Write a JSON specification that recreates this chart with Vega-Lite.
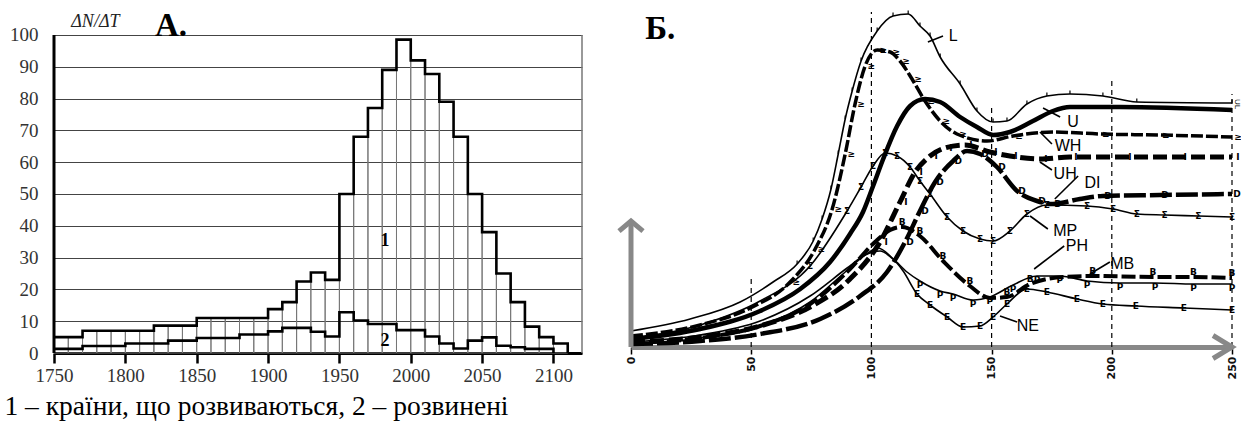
{
 "$schema": "https://vega.github.io/schema/vega-lite/v6.json",
 "padding": {"left": 4, "top": 8, "right": 0, "bottom": 0},
 "background": "white",
 "bounds": "flush",
 "spacing": 49,
 "config": {
  "view": {"stroke": null},
  "axisY": {"grid": true, "gridColor": "#444", "gridWidth": 1, "domain": false, "ticks": false, "labelFont": "Liberation Serif", "labelFontSize": 19, "labelColor": "#333", "labelPadding": 16, "labelOverlap": false, "title": null}
 },
 "datasets": {
  "bars": [
   {"start":1750,"end":1760,"v":5},{"start":1760,"end":1770,"v":5},{"start":1770,"end":1780,"v":7},{"start":1780,"end":1790,"v":7},{"start":1790,"end":1800,"v":7},{"start":1800,"end":1810,"v":7},{"start":1810,"end":1820,"v":7},{"start":1820,"end":1830,"v":8.6},{"start":1830,"end":1840,"v":8.6},{"start":1840,"end":1850,"v":8.6},{"start":1850,"end":1860,"v":11},{"start":1860,"end":1870,"v":11},{"start":1870,"end":1880,"v":11},{"start":1880,"end":1890,"v":11},{"start":1890,"end":1900,"v":11},{"start":1900,"end":1910,"v":13.8},{"start":1910,"end":1920,"v":16},{"start":1920,"end":1930,"v":22.5},{"start":1930,"end":1940,"v":25.3},{"start":1940,"end":1950,"v":23},{"start":1950,"end":1960,"v":50},{"start":1960,"end":1970,"v":68},{"start":1970,"end":1980,"v":77},{"start":1980,"end":1990,"v":89},{"start":1990,"end":2000,"v":98.5},{"start":2000,"end":2010,"v":92},{"start":2010,"end":2020,"v":87.7},{"start":2020,"end":2030,"v":79},{"start":2030,"end":2040,"v":68},{"start":2040,"end":2050,"v":50},{"start":2050,"end":2060,"v":38},{"start":2060,"end":2070,"v":25},{"start":2070,"end":2080,"v":16},{"start":2080,"end":2090,"v":8.3},{"start":2090,"end":2100,"v":5},{"start":2100,"end":2110,"v":3}
  ],
  "steps": [
   {"s":1,"year":1750,"v":5},{"s":1,"year":1760,"v":5},{"s":1,"year":1770,"v":7},{"s":1,"year":1780,"v":7},{"s":1,"year":1790,"v":7},{"s":1,"year":1800,"v":7},{"s":1,"year":1810,"v":7},{"s":1,"year":1820,"v":8.6},{"s":1,"year":1830,"v":8.6},{"s":1,"year":1840,"v":8.6},{"s":1,"year":1850,"v":11},{"s":1,"year":1860,"v":11},{"s":1,"year":1870,"v":11},{"s":1,"year":1880,"v":11},{"s":1,"year":1890,"v":11},{"s":1,"year":1900,"v":13.8},{"s":1,"year":1910,"v":16},{"s":1,"year":1920,"v":22.5},{"s":1,"year":1930,"v":25.3},{"s":1,"year":1940,"v":23},{"s":1,"year":1950,"v":50},{"s":1,"year":1960,"v":68},{"s":1,"year":1970,"v":77},{"s":1,"year":1980,"v":89},{"s":1,"year":1990,"v":98.5},{"s":1,"year":2000,"v":92},{"s":1,"year":2010,"v":87.7},{"s":1,"year":2020,"v":79},{"s":1,"year":2030,"v":68},{"s":1,"year":2040,"v":50},{"s":1,"year":2050,"v":38},{"s":1,"year":2060,"v":25},{"s":1,"year":2070,"v":16},{"s":1,"year":2080,"v":8.3},{"s":1,"year":2090,"v":5},{"s":1,"year":2100,"v":3},{"s":1,"year":2110,"v":0},
   {"s":2,"year":1750,"v":1.3},{"s":2,"year":1760,"v":1.3},{"s":2,"year":1770,"v":2.2},{"s":2,"year":1780,"v":2.2},{"s":2,"year":1790,"v":2.2},{"s":2,"year":1800,"v":3},{"s":2,"year":1810,"v":3},{"s":2,"year":1820,"v":3},{"s":2,"year":1830,"v":3.9},{"s":2,"year":1840,"v":3.9},{"s":2,"year":1850,"v":4.7},{"s":2,"year":1860,"v":4.7},{"s":2,"year":1870,"v":4.7},{"s":2,"year":1880,"v":5.8},{"s":2,"year":1890,"v":5.8},{"s":2,"year":1900,"v":6.8},{"s":2,"year":1910,"v":7.9},{"s":2,"year":1920,"v":7.9},{"s":2,"year":1930,"v":6.7},{"s":2,"year":1940,"v":5.2},{"s":2,"year":1950,"v":12.8},{"s":2,"year":1960,"v":10.2},{"s":2,"year":1970,"v":9.1},{"s":2,"year":1980,"v":9.1},{"s":2,"year":1990,"v":7.2},{"s":2,"year":2000,"v":7.2},{"s":2,"year":2010,"v":5.2},{"s":2,"year":2020,"v":3},{"s":2,"year":2030,"v":1.4},{"s":2,"year":2040,"v":3.9},{"s":2,"year":2050,"v":4.9},{"s":2,"year":2060,"v":2.3},{"s":2,"year":2070,"v":1.8},{"s":2,"year":2080,"v":1.3},{"s":2,"year":2090,"v":1.3},{"s":2,"year":2100,"v":0}
  ],
  "frame": [{"x":1750,"y0":0,"y1":100}],
  "border": [{"x":2120,"y0":0,"y1":100}],
  "curves": [
   {"s":"L","x":0,"y":16},{"s":"L","x":24.6,"y":28},{"s":"L","x":45.4,"y":45},{"s":"L","x":59.1,"y":65},{"s":"L","x":69.1,"y":83},{"s":"L","x":75.8,"y":106},{"s":"L","x":79.5,"y":128},{"s":"L","x":83.2,"y":158},{"s":"L","x":86.2,"y":193},{"s":"L","x":89.1,"y":228},{"s":"L","x":92.0,"y":256},{"s":"L","x":95.7,"y":286},{"s":"L","x":102.4,"y":316},{"s":"L","x":109.0,"y":331},{"s":"L","x":115.3,"y":333},{"s":"L","x":120.2,"y":321},{"s":"L","x":124.4,"y":311},{"s":"L","x":128.6,"y":290},{"s":"L","x":136.9,"y":263},{"s":"L","x":143.9,"y":236},{"s":"L","x":150.6,"y":225},{"s":"L","x":156.4,"y":226},{"s":"L","x":164.7,"y":243},{"s":"L","x":173.0,"y":251},{"s":"L","x":182.6,"y":253},{"s":"L","x":196.3,"y":251},{"s":"L","x":210.4,"y":245},{"s":"L","x":250,"y":244},
   {"s":"U","x":0,"y":8},{"s":"U","x":28.8,"y":18},{"s":"U","x":53.7,"y":36},{"s":"U","x":70.4,"y":58},{"s":"U","x":82.8,"y":85},{"s":"U","x":91.1,"y":113},{"s":"U","x":96.5,"y":135},{"s":"U","x":100.7,"y":161},{"s":"U","x":104.9,"y":188},{"s":"U","x":110.7,"y":221},{"s":"U","x":116.1,"y":241},{"s":"U","x":122.3,"y":248},{"s":"U","x":128.6,"y":245},{"s":"U","x":136.9,"y":230},{"s":"U","x":143.9,"y":220},{"s":"U","x":150.6,"y":212},{"s":"U","x":157.6,"y":215},{"s":"U","x":167.2,"y":226},{"s":"U","x":175.5,"y":236},{"s":"U","x":182.6,"y":240},{"s":"U","x":203.4,"y":240},{"s":"U","x":250,"y":237},
   {"s":"WH","x":0,"y":11},{"s":"WH","x":28.8,"y":22},{"s":"WH","x":49.6,"y":39},{"s":"WH","x":66.2,"y":65},{"s":"WH","x":76.6,"y":98},{"s":"WH","x":83.7,"y":138},{"s":"WH","x":89.1,"y":193},{"s":"WH","x":93.2,"y":243},{"s":"WH","x":97.4,"y":281},{"s":"WH","x":102.4,"y":297},{"s":"WH","x":107.8,"y":295},{"s":"WH","x":111.9,"y":286},{"s":"WH","x":116.9,"y":268},{"s":"WH","x":122.3,"y":246},{"s":"WH","x":128.6,"y":226},{"s":"WH","x":135.6,"y":213},{"s":"WH","x":148.1,"y":206},{"s":"WH","x":158.9,"y":211},{"s":"WH","x":175.5,"y":215},{"s":"WH","x":195,"y":213},{"s":"WH","x":220,"y":212},{"s":"WH","x":250,"y":210},
   {"s":"UH","x":0,"y":5},{"s":"UH","x":28.8,"y":10},{"s":"UH","x":53.7,"y":21},{"s":"UH","x":74.5,"y":40},{"s":"UH","x":91.1,"y":68},{"s":"UH","x":103.6,"y":105},{"s":"UH","x":111.9,"y":145},{"s":"UH","x":118.2,"y":175},{"s":"UH","x":124.4,"y":191},{"s":"UH","x":130.6,"y":199},{"s":"UH","x":138.9,"y":202},{"s":"UH","x":149.3,"y":195},{"s":"UH","x":157.6,"y":191},{"s":"UH","x":170.1,"y":188},{"s":"UH","x":182.6,"y":190},{"s":"UH","x":205,"y":190},{"s":"UH","x":228,"y":190},{"s":"UH","x":250,"y":190},
   {"s":"DI","x":0,"y":3},{"s":"DI","x":28.8,"y":6},{"s":"DI","x":53.7,"y":13},{"s":"DI","x":78.7,"y":28},{"s":"DI","x":95.3,"y":51},{"s":"DI","x":106.5,"y":75},{"s":"DI","x":114.0,"y":105},{"s":"DI","x":120.2,"y":136},{"s":"DI","x":126.5,"y":165},{"s":"DI","x":134.0,"y":186},{"s":"DI","x":139.8,"y":196},{"s":"DI","x":145.2,"y":193},{"s":"DI","x":152.2,"y":180},{"s":"DI","x":160.6,"y":156},{"s":"DI","x":168.9,"y":146},{"s":"DI","x":175.5,"y":143},{"s":"DI","x":186.7,"y":148},{"s":"DI","x":196.3,"y":151},{"s":"DI","x":220,"y":152},{"s":"DI","x":250,"y":153},
   {"s":"MP","x":0,"y":8},{"s":"MP","x":28.8,"y":22},{"s":"MP","x":53.7,"y":46},{"s":"MP","x":74.5,"y":81},{"s":"MP","x":89.9,"y":136},{"s":"MP","x":95.7,"y":160},{"s":"MP","x":100.7,"y":181},{"s":"MP","x":105.7,"y":194},{"s":"MP","x":110.7,"y":191},{"s":"MP","x":116.1,"y":180},{"s":"MP","x":120.2,"y":166},{"s":"MP","x":124.4,"y":153},{"s":"MP","x":131.5,"y":130},{"s":"MP","x":138.1,"y":116},{"s":"MP","x":145.2,"y":108},{"s":"MP","x":150.6,"y":106},{"s":"MP","x":157.6,"y":116},{"s":"MP","x":164.7,"y":133},{"s":"MP","x":173.0,"y":142},{"s":"MP","x":189.7,"y":141},{"s":"MP","x":200.5,"y":138},{"s":"MP","x":210.4,"y":133},{"s":"MP","x":222,"y":132},{"s":"MP","x":236,"y":131},{"s":"MP","x":250,"y":130},
   {"s":"PH","x":0,"y":5},{"s":"PH","x":28.8,"y":12},{"s":"PH","x":53.7,"y":26},{"s":"PH","x":74.5,"y":51},{"s":"PH","x":89.9,"y":79},{"s":"PH","x":97.4,"y":92},{"s":"PH","x":103.6,"y":96},{"s":"PH","x":109.0,"y":88},{"s":"PH","x":114.8,"y":75},{"s":"PH","x":120.2,"y":66},{"s":"PH","x":128.6,"y":56},{"s":"PH","x":134.0,"y":53},{"s":"PH","x":142.3,"y":47},{"s":"PH","x":149.3,"y":50},{"s":"PH","x":158.9,"y":62},{"s":"PH","x":168.9,"y":71},{"s":"PH","x":178.4,"y":71},{"s":"PH","x":189.7,"y":66},{"s":"PH","x":203.4,"y":64},{"s":"PH","x":218,"y":64},{"s":"PH","x":234,"y":63},{"s":"PH","x":250,"y":63},
   {"s":"MB","x":0,"y":4},{"s":"MB","x":28.8,"y":9},{"s":"MB","x":53.7,"y":21},{"s":"MB","x":74.5,"y":43},{"s":"MB","x":91.1,"y":78},{"s":"MB","x":101.5,"y":105},{"s":"MB","x":107.8,"y":117},{"s":"MB","x":112.8,"y":120},{"s":"MB","x":120.2,"y":111},{"s":"MB","x":129.8,"y":86},{"s":"MB","x":141.0,"y":61},{"s":"MB","x":149.3,"y":49},{"s":"MB","x":156.4,"y":50},{"s":"MB","x":166.0,"y":63},{"s":"MB","x":179.7,"y":70},{"s":"MB","x":192.1,"y":71},{"s":"MB","x":217.1,"y":70},{"s":"MB","x":234,"y":70},{"s":"MB","x":250,"y":69},
   {"s":"NE","x":0,"y":3},{"s":"NE","x":28.8,"y":9},{"s":"NE","x":53.7,"y":21},{"s":"NE","x":74.5,"y":45},{"s":"NE","x":89.1,"y":75},{"s":"NE","x":97.4,"y":92},{"s":"NE","x":102.8,"y":99},{"s":"NE","x":107.8,"y":91},{"s":"NE","x":113.2,"y":76},{"s":"NE","x":119.0,"y":53},{"s":"NE","x":124.4,"y":42},{"s":"NE","x":131.5,"y":30},{"s":"NE","x":138.1,"y":20},{"s":"NE","x":145.2,"y":21},{"s":"NE","x":150.6,"y":30},{"s":"NE","x":156.4,"y":43},{"s":"NE","x":164.7,"y":58},{"s":"NE","x":173.0,"y":55},{"s":"NE","x":185.5,"y":48},{"s":"NE","x":196.3,"y":43},{"s":"NE","x":210,"y":41},{"s":"NE","x":230,"y":39},{"s":"NE","x":250,"y":37}
  ],
  "vlines": [{"x":50,"bot":0,"top":68},{"x":100,"bot":0,"top":335},{"x":150,"bot":0,"top":243},{"x":200,"bot":0,"top":266},{"x":250,"bot":0,"top":253}],
  "labels": [
   {"t":"L","x":134.0,"y":311},{"t":"U","x":183.9,"y":225},{"t":"WH","x":181.8,"y":201},{"t":"UH","x":180.6,"y":173},{"t":"DI","x":192.0,"y":164},{"t":"MP","x":180.6,"y":116},{"t":"PH","x":185.5,"y":101},{"t":"MB","x":204.3,"y":83},{"t":"NE","x":165.1,"y":21}
  ],
  "leaders": [
   {"t":"L","x":129.8,"y":311,"x2":123.5,"y2":305},{"t":"U","x":178.5,"y":230,"x2":171.4,"y2":239},{"t":"WH","x":175.1,"y":203,"x2":170.1,"y2":215},{"t":"UH","x":175.1,"y":177,"x2":170.1,"y2":185},{"t":"DI","x":186.0,"y":171,"x2":176.3,"y2":148},{"t":"MP","x":173.4,"y":118,"x2":166.0,"y2":131},{"t":"PH","x":180.2,"y":101,"x2":167.7,"y2":78},{"t":"MB","x":199.2,"y":85,"x2":190.9,"y2":73},{"t":"NE","x":160.6,"y":25,"x2":153.5,"y2":31}
  ],
  "yarrow": [{"x":0,"y0":0,"y1":126}],
  "uphead": [{"x":0,"y":126}],
  "righthead": [{"x":250,"y":0}]
 },
 "hconcat": [
  {
   "width": 528,
   "height": 341,
   "layer": [
    {
     "data": {"name": "bars"},
     "mark": {"type": "rect", "filled": false, "color": "#777", "strokeWidth": 1},
     "encoding": {
      "x": {"field": "start", "type": "quantitative", "scale": {"domain": [1750, 2120], "nice": false, "zero": false},
       "axis": {"values": [1750,1800,1850,1900,1950,2000,2050,2100], "format": "d", "grid": false, "domainColor": "black", "domainWidth": 3, "tickColor": "black", "tickSize": 10, "tickWidth": 2.5, "labelFont": "Liberation Serif", "labelFontSize": 19, "labelColor": "#333", "labelPadding": 3, "labelFlush": false, "labelOverlap": false, "title": null}},
      "x2": {"field": "end"},
      "y": {"field": "v", "type": "quantitative", "scale": {"domain": [0, 107.2], "nice": false}, "axis": {"values": [0,10,20,30,40,50,60,70,80,90,100], "title": null}},
      "y2": {"value": 341}
     }
    },
    {
     "data": {"name": "steps"},
     "mark": {"type": "line", "interpolate": "step-after", "color": "black", "strokeWidth": 2.6},
     "encoding": {
      "x": {"field": "year", "type": "quantitative"},
      "y": {"field": "v", "type": "quantitative", "axis": {"values": [0,10,20,30,40,50,60,70,80,90,100], "title": null}},
      "detail": {"field": "s", "type": "nominal"}
     }
    },
    {
     "data": {"name": "frame"},
     "mark": {"type": "rule", "color": "black", "strokeWidth": 3},
     "encoding": {"x": {"field": "x", "type": "quantitative"}, "y": {"field": "y0", "type": "quantitative", "axis": {"values": [0,10,20,30,40,50,60,70,80,90,100], "title": null}}, "y2": {"field": "y1"}}
    },
    {
     "data": {"name": "border"},
     "mark": {"type": "rule", "color": "#777", "strokeWidth": 1.5},
     "encoding": {"x": {"field": "x", "type": "quantitative"}, "y": {"field": "y0", "type": "quantitative", "axis": {"values": [0,10,20,30,40,50,60,70,80,90,100], "title": null}}, "y2": {"field": "y1"}}
    },
    {
     "data": {"values": [{"x": 1779, "y": 104.1, "t": "ΔN/ΔT"}]},
     "mark": {"type": "text", "font": "Liberation Serif", "fontStyle": "italic", "fontSize": 18, "color": "#222"},
     "encoding": {"x": {"field": "x", "type": "quantitative"}, "y": {"field": "y", "type": "quantitative", "axis": {"values": [0,10,20,30,40,50,60,70,80,90,100], "title": null}}, "text": {"field": "t", "type": "nominal"}}
    },
    {
     "data": {"values": [{"x": 1832, "y": 102.8, "t": "A."}]},
     "mark": {"type": "text", "font": "Liberation Serif", "fontWeight": "bold", "fontSize": 33, "color": "black"},
     "encoding": {"x": {"field": "x", "type": "quantitative"}, "y": {"field": "y", "type": "quantitative", "axis": {"values": [0,10,20,30,40,50,60,70,80,90,100], "title": null}}, "text": {"field": "t", "type": "nominal"}}
    },
    {
     "data": {"values": [{"x": 1982, "y": 35.2, "t": "1"}, {"x": 1982, "y": 3.8, "t": "2"}]},
     "mark": {"type": "text", "font": "Liberation Serif", "fontWeight": "bold", "fontSize": 18, "color": "black"},
     "encoding": {"x": {"field": "x", "type": "quantitative"}, "y": {"field": "y", "type": "quantitative", "axis": {"values": [0,10,20,30,40,50,60,70,80,90,100], "title": null}}, "text": {"field": "t", "type": "nominal"}}
    },
    {
     "data": {"values": [{"x": 1715.3, "y": -19.5, "t": "1 – країни, що розвиваються, 2 – розвинені"}]},
     "mark": {"type": "text", "font": "Liberation Serif", "fontSize": 27.5, "color": "black", "align": "left", "baseline": "alphabetic"},
     "encoding": {"x": {"field": "x", "type": "quantitative"}, "y": {"field": "y", "type": "quantitative", "axis": {"values": [0,10,20,30,40,50,60,70,80,90,100], "title": null}}, "text": {"field": "t", "type": "nominal"}}
    }
   ]
  },
  {
   "width": 601,
   "height": 335,
   "layer": [
    {
     "data": {"name": "vlines"},
     "mark": {"type": "rule", "color": "black", "strokeWidth": 1.2, "strokeDash": [5, 4]},
     "encoding": {
      "x": {"field": "x", "type": "quantitative", "scale": {"domain": [0, 250], "nice": false},
       "axis": {"values": [0,50,100,150,200,250], "grid": false, "domainColor": "#888", "domainWidth": 5, "tickColor": "black", "tickSize": 7, "tickWidth": 1.5, "labelAngle": -90, "labelFont": "DejaVu Sans", "labelFontSize": 11, "labelFontWeight": "bold", "labelColor": "#111", "labelPadding": 2, "labelFlush": false, "labelOverlap": false, "title": null}},
      "y": {"field": "bot", "type": "quantitative", "scale": {"domain": [0, 335], "nice": false}, "axis": null},
      "y2": {"field": "top"}
     }
    },
    {
     "data": {"name": "curves"},
     "transform": [{"filter": {"field": "s", "oneOf": ["L", "MP", "PH", "NE"]}}],
     "mark": {"type": "line", "interpolate": "monotone", "color": "black", "strokeWidth": 1.6},
     "encoding": {"x": {"field": "x", "type": "quantitative"}, "y": {"field": "y", "type": "quantitative", "axis": null}, "detail": {"field": "s", "type": "nominal"}}
    },
    {
     "data": {"name": "curves"},
     "transform": [{"filter": {"field": "s", "equal": "U"}}],
     "mark": {"type": "line", "interpolate": "monotone", "color": "black", "strokeWidth": 4.5},
     "encoding": {"x": {"field": "x", "type": "quantitative"}, "y": {"field": "y", "type": "quantitative", "axis": null}}
    },
    {
     "data": {"name": "curves"},
     "transform": [{"filter": {"field": "s", "equal": "WH"}}],
     "mark": {"type": "line", "interpolate": "monotone", "color": "black", "strokeWidth": 3.5, "strokeDash": [12, 3]},
     "encoding": {"x": {"field": "x", "type": "quantitative"}, "y": {"field": "y", "type": "quantitative", "axis": null}}
    },
    {
     "data": {"name": "curves"},
     "transform": [{"filter": {"field": "s", "equal": "UH"}}],
     "mark": {"type": "line", "interpolate": "monotone", "color": "black", "strokeWidth": 5, "strokeDash": [14, 5]},
     "encoding": {"x": {"field": "x", "type": "quantitative"}, "y": {"field": "y", "type": "quantitative", "axis": null}}
    },
    {
     "data": {"name": "curves"},
     "transform": [{"filter": {"field": "s", "equal": "DI"}}],
     "mark": {"type": "line", "interpolate": "monotone", "color": "black", "strokeWidth": 4.5, "strokeDash": [22, 4]},
     "encoding": {"x": {"field": "x", "type": "quantitative"}, "y": {"field": "y", "type": "quantitative", "axis": null}}
    },
    {
     "data": {"name": "curves"},
     "transform": [{"filter": {"field": "s", "equal": "MB"}}],
     "mark": {"type": "line", "interpolate": "monotone", "color": "black", "strokeWidth": 4, "strokeDash": [14, 4]},
     "encoding": {"x": {"field": "x", "type": "quantitative"}, "y": {"field": "y", "type": "quantitative", "axis": null}}
    },
    {
     "data": {"name": "curves"},
     "transform": [{"filter": {"field": "s", "equal": "NE"}}, {"filter": "datum.x > 118"}],
     "mark": {"type": "text", "font": "DejaVu Sans", "fontSize": 9, "fontWeight": "bold", "color": "black"},
     "encoding": {"x": {"field": "x", "type": "quantitative"}, "y": {"field": "y", "type": "quantitative", "axis": null}, "text": {"value": "E"}}
    },
    {
     "data": {"name": "curves"},
     "transform": [{"filter": {"field": "s", "equal": "PH"}}, {"filter": "datum.x > 118"}],
     "mark": {"type": "text", "font": "DejaVu Sans", "fontSize": 9, "fontWeight": "bold", "color": "black", "dy": 4},
     "encoding": {"x": {"field": "x", "type": "quantitative"}, "y": {"field": "y", "type": "quantitative", "axis": null}, "text": {"value": "P"}}
    },
    {
     "data": {"name": "curves"},
     "transform": [{"filter": {"field": "s", "equal": "MB"}}, {"filter": "datum.x > 110 && datum.x != 149.3 && datum.x != 179.7"}],
     "mark": {"type": "text", "font": "DejaVu Sans", "fontSize": 9, "fontWeight": "bold", "color": "black", "dy": -5},
     "encoding": {"x": {"field": "x", "type": "quantitative"}, "y": {"field": "y", "type": "quantitative", "axis": null}, "text": {"value": "B"}}
    },
    {
     "data": {"name": "curves"},
     "transform": [{"filter": {"field": "s", "equal": "MP"}}, {"filter": "datum.x > 60"}],
     "mark": {"type": "text", "font": "DejaVu Sans", "fontSize": 9, "fontWeight": "bold", "color": "black"},
     "encoding": {"x": {"field": "x", "type": "quantitative"}, "y": {"field": "y", "type": "quantitative", "axis": null}, "text": {"value": "Σ"}}
    },
    {
     "data": {"name": "curves"},
     "transform": [{"filter": {"field": "s", "equal": "DI"}}, {"filter": "datum.x > 110 && datum.x != 139.8 && datum.x != 186.7"}],
     "mark": {"type": "text", "font": "DejaVu Sans", "fontSize": 9, "fontWeight": "bold", "color": "black", "dx": 5},
     "encoding": {"x": {"field": "x", "type": "quantitative"}, "y": {"field": "y", "type": "quantitative", "axis": null}, "text": {"value": "D"}}
    },
    {
     "data": {"name": "curves"},
     "transform": [{"filter": {"field": "s", "equal": "UH"}}, {"filter": "datum.x > 100"}],
     "mark": {"type": "text", "font": "DejaVu Sans", "fontSize": 9, "fontWeight": "bold", "color": "black", "dx": 6},
     "encoding": {"x": {"field": "x", "type": "quantitative"}, "y": {"field": "y", "type": "quantitative", "axis": null}, "text": {"value": "I"}}
    },
    {
     "data": {"name": "curves"},
     "transform": [{"filter": {"field": "s", "equal": "WH"}}, {"filter": "datum.x > 60 && datum.x != 148.1 && datum.x != 175.5"}],
     "mark": {"type": "text", "font": "DejaVu Sans", "fontSize": 9, "fontWeight": "bold", "color": "black", "dx": 6},
     "encoding": {"x": {"field": "x", "type": "quantitative"}, "y": {"field": "y", "type": "quantitative", "axis": null}, "text": {"value": "≥"}}
    },
    {
     "data": {"name": "curves"},
     "transform": [{"filter": {"field": "s", "equal": "L"}}, {"filter": "datum.x > 60"}],
     "mark": {"type": "point", "shape": "M0,0L0,-1", "size": 49, "filled": false, "color": "black", "strokeWidth": 1.2, "opacity": 1},
     "encoding": {"x": {"field": "x", "type": "quantitative"}, "y": {"field": "y", "type": "quantitative", "axis": null}}
    },
    {
     "data": {"name": "leaders"},
     "mark": {"type": "rule", "color": "black", "strokeWidth": 1.6},
     "encoding": {"x": {"field": "x", "type": "quantitative"}, "y": {"field": "y", "type": "quantitative", "axis": null}, "x2": {"field": "x2"}, "y2": {"field": "y2"}}
    },
    {
     "data": {"name": "labels"},
     "mark": {"type": "text", "font": "Liberation Sans", "fontSize": 16, "color": "black"},
     "encoding": {"x": {"field": "x", "type": "quantitative"}, "y": {"field": "y", "type": "quantitative", "axis": null}, "text": {"field": "t", "type": "nominal"}}
    },
    {
     "data": {"name": "yarrow"},
     "mark": {"type": "rule", "color": "#888", "strokeWidth": 5},
     "encoding": {"x": {"field": "x", "type": "quantitative"}, "y": {"field": "y0", "type": "quantitative", "axis": null}, "y2": {"field": "y1"}}
    },
    {
     "data": {"name": "uphead"},
     "mark": {"type": "point", "shape": "M-1,0.85L0,0L1,0.85", "size": 576, "filled": false, "color": "#888", "strokeWidth": 5, "opacity": 1},
     "encoding": {"x": {"field": "x", "type": "quantitative"}, "y": {"field": "y", "type": "quantitative", "axis": null}}
    },
    {
     "data": {"name": "righthead"},
     "mark": {"type": "point", "shape": "M-1.65,-1L0,0L-1.65,1", "size": 529, "filled": false, "color": "#888", "strokeWidth": 5, "opacity": 1},
     "encoding": {"x": {"field": "x", "type": "quantitative"}, "y": {"field": "y", "type": "quantitative", "axis": null}}
    },
    {
     "data": {"values": [{"x": 12.2, "y": 318, "t": "Б."}]},
     "mark": {"type": "text", "font": "Liberation Serif", "fontWeight": "bold", "fontSize": 33, "color": "black"},
     "encoding": {"x": {"field": "x", "type": "quantitative"}, "y": {"field": "y", "type": "quantitative", "axis": null}, "text": {"field": "t", "type": "nominal"}}
    },
    {
     "data": {"values": [{"x": 252.2, "y": 243, "t": "UL"}]},
     "mark": {"type": "text", "font": "Liberation Sans", "fontSize": 8, "angle": 90, "color": "black"},
     "encoding": {"x": {"field": "x", "type": "quantitative"}, "y": {"field": "y", "type": "quantitative", "axis": null}, "text": {"field": "t", "type": "nominal"}}
    }
   ]
  }
 ]
}
